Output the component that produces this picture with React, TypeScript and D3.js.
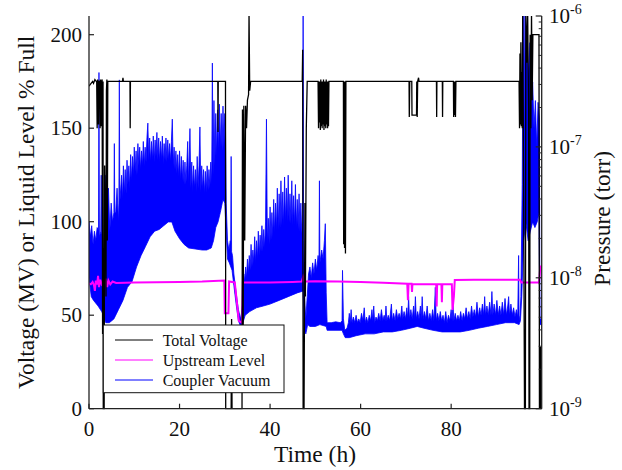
import React from 'react';
import * as d3 from 'd3';

// ---------- data ----------
const xTicks = [0, 20, 40, 60, 80];
const yTicks = [0, 50, 100, 150, 200];
const pMajor = [1e-9, 1e-8, 1e-7, 1e-6];
const pMajorExp = ['-9', '-8', '-7', '-6'];
const pMinorDecades = [1e-9, 1e-8, 1e-7];
const pMinorMult = [2, 3, 4, 5, 6, 7, 8, 9];

const seriesNames = ['Total Voltage', 'Upstream Level', 'Coupler Vacuum'];
const seriesColors = ['#000000', '#ff00ff', '#0000ff'];

// Total Voltage (MV) [time h, value]
const voltage: [number, number][] = [
  [0, 172.5], [0.8, 175], [1.0, 174], [1.3, 176], [1.6, 175], [1.7, 175], [1.8, 150], [1.9, 176], [2.0, 175],
  [2.1, 152], [2.2, 175], [2.4, 175], [2.45, 150], [2.5, 176], [2.65, 151], [2.75, 175], [2.9, 176], [3.0, 40],
  [3.1, 175], [3.15, 0], [3.35, 0], [3.45, 130], [3.6, 100], [3.75, 60], [3.85, 170], [3.95, 176], [4.05, 90], [4.15, 175],
  [7.4, 175], [7.5, 177], [7.6, 175],
  [9.05, 175], [9.1, 150], [9.15, 175],
  [28.45, 175], [28.5, 148], [28.55, 175],
  [30.15, 175], [30.2, 0], [31.4, 0], [31.5, 48], [31.6, 0], [33.8, 0], [33.9, 160], [34.05, 30], [34.2, 162],
  [34.4, 90], [34.6, 162], [34.8, 150], [35.0, 165], [35.25, 168], [35.35, 212], [35.5, 170], [35.7, 175],
  [47.1, 175], [47.2, 192], [47.3, 0], [47.5, 0], [47.7, 110], [47.8, 60], [48.0, 150], [48.2, 175],
  [50.6, 175], [50.7, 150], [50.8, 175], [50.9, 153], [51.0, 175], [51.1, 149], [51.2, 176], [51.3, 151], [51.4, 175],
  [51.5, 150], [51.6, 175], [51.7, 152], [51.8, 176], [51.9, 149], [52.0, 175], [52.1, 151], [52.2, 175], [52.3, 150],
  [52.4, 176], [52.5, 152], [52.6, 175], [52.7, 150], [52.8, 175], [52.9, 151], [53.0, 175],
  [56.2, 175], [56.25, 88], [56.35, 175], [56.45, 86], [56.55, 175], [56.65, 83], [56.75, 175],
  [70.7, 175], [70.75, 156], [70.85, 175], [71.3, 175], [71.35, 157], [72.35, 157], [72.4, 175], [72.5, 156], [72.6, 175],
  [72.8, 177], [72.9, 175],
  [76.75, 175], [76.8, 156], [76.85, 175],
  [78.05, 175], [78.1, 156], [78.15, 175],
  [80.5, 175], [80.55, 156], [80.65, 175], [80.75, 157], [80.85, 175], [80.95, 156], [81.05, 175],
  [95.0, 175], [95.1, 150], [95.2, 190], [95.3, 152], [95.4, 196], [95.5, 151], [95.6, 180], [95.7, 150], [95.8, 212],
  [96.0, 120], [96.2, 0], [96.4, 0], [96.5, 212], [96.7, 185], [96.9, 212], [97.1, 160], [97.2, 0], [97.35, 0],
  [97.45, 200], [97.6, 150], [97.75, 212], [97.9, 165], [98.05, 200], [99.4, 200], [99.5, 0], [99.6, 33], [99.7, 0],
  [99.8, 33], [99.9, 0],
];

// Upstream Level (% full) [time h, value]
const level: [number, number][] = [
  [0, 67], [0.4, 66.5], [0.8, 67.8], [1.1, 66], [1.3, 63], [1.5, 68.5], [1.8, 66.5], [2.0, 71], [2.2, 65], [2.5, 69],
  [2.8, 66.5], [3.1, 67.5], [3.25, 52], [3.4, 67], [3.7, 69.5], [4.0, 65], [4.3, 68.5], [4.7, 66.5], [5.2, 68],
  [6.0, 67.2], [8.0, 67.3], [10, 67.5], [15, 67.6], [20, 67.8], [25, 68], [29.9, 68.5], [30.0, 51], [30.8, 51],
  [30.95, 68], [32.2, 67.5], [33.1, 47], [33.8, 46], [34.0, 67.5], [40, 67.5], [45, 67.8], [47.0, 68], [47.3, 70.5],
  [47.6, 68], [50, 68.2], [55, 68], [60, 67.8], [65, 67.3],
  [70.3, 66.8], [70.45, 58], [70.6, 66.8], [71.25, 66.8], [71.35, 62.5], [71.45, 66.6], [76.7, 66.6], [76.8, 54.6],
  [76.9, 66.6], [77.85, 66.6], [77.95, 57], [78.05, 66.6], [80.15, 66.6], [80.3, 52.8], [80.6, 60], [80.8, 68.8],
  [85, 69], [90, 69], [95.2, 69], [95.5, 67.5], [99.4, 67.5], [99.7, 76], [100, 76],
];

// Coupler Vacuum (torr): upper envelope of the fast-oscillating trace [time h, pressure]
const vacuumHigh: [number, number][] = [
  [0.0, 2.67e-8], [0.3, 2.06e-8], [0.6, 2.5e-8], [0.9, 1.8e-8], [1.2, 2.27e-8], [1.5, 1.92e-8], [1.8, 2.42e-8],
  [2.1, 2.27e-8], [2.2, 3.7e-7], [2.3, 2.06e-8], [2.6, 2.27e-8], [2.7, 6.08e-8], [2.8, 2.27e-8], [3.0, 1.92e-8],
  [3.3, 7.18e-9], [3.5, 1.18e-8], [3.7, 6.08e-8], [4.0, 2.67e-8], [4.3, 4.84e-8], [4.6, 2.27e-8], [4.9, 3.72e-8],
  [5.2, 2.67e-8], [5.5, 3.15e-8], [5.6, 1.06e-7], [5.7, 3.15e-8], [5.9, 3.15e-8], [6.2, 4.84e-8], [6.5, 2.67e-8],
  [6.6, 3.72e-8], [6.7, 3.25e-7], [6.8, 3.72e-8],
  [7.2, 6.08e-8], [7.4, 3.97e-8], [7.6, 7.17e-8], [7.8, 4.38e-8], [8.0, 6.71e-8], [8.2, 4.38e-8], [8.4, 7.91e-8],
  [8.6, 5.16e-8], [8.8, 7.17e-8], [9.0, 4.84e-8], [9.2, 8.73e-8], [9.4, 5.51e-8], [9.6, 8.45e-8], [9.8, 6.08e-8],
  [10.0, 9.96e-8], [10.2, 6.5e-8], [10.4, 9.32e-8], [10.6, 6.08e-8], [10.8, 1.06e-7], [11.0, 7.17e-8],
  [11.2, 9.96e-8], [11.4, 6.71e-8], [11.6, 9.32e-8], [11.8, 7.17e-8], [12.0, 1.1e-7], [12.2, 7.17e-8],
  [12.4, 9.96e-8], [12.6, 7.66e-8], [12.8, 1.17e-7], [13.0, 1.52e-7], [13.2, 7.91e-8], [13.4, 1.17e-7],
  [13.6, 7.66e-8], [13.8, 1.1e-7], [14.0, 7.91e-8], [14.2, 1.21e-7], [14.4, 7.66e-8], [14.6, 1.13e-7],
  [14.8, 8.45e-8], [15.0, 1.29e-7], [15.2, 7.91e-8], [15.4, 1.17e-7], [15.6, 7.66e-8], [15.8, 1.1e-7],
  [16.0, 7.91e-8], [16.2, 1.21e-7], [16.4, 7.41e-8], [16.6, 1.06e-7], [16.8, 7.91e-8], [17.0, 1.17e-7],
  [17.2, 7.66e-8], [17.4, 1.13e-7], [17.6, 7.91e-8], [17.8, 1.06e-7], [18.0, 7.66e-8], [18.2, 1.1e-7],
  [18.4, 1.63e-7], [18.6, 7.17e-8], [18.8, 9.96e-8], [19.0, 6.71e-8], [19.2, 9.32e-8], [19.4, 6.29e-8],
  [19.6, 8.73e-8], [19.8, 5.89e-8], [20.0, 9.32e-8], [20.2, 5.51e-8], [20.4, 8.45e-8], [20.6, 5.51e-8],
  [20.8, 7.91e-8], [21.0, 5.16e-8], [21.2, 7.66e-8], [21.4, 5.16e-8], [21.6, 7.17e-8], [21.8, 1.1e-7],
  [22.0, 5.16e-8], [22.3, 1.38e-7], [22.5, 4.84e-8], [22.7, 7.66e-8], [22.9, 4.53e-8], [23.1, 7.17e-8],
  [23.3, 4.84e-8], [23.5, 6.71e-8], [23.7, 4.53e-8], [23.9, 8.45e-8], [24.1, 4.84e-8], [24.3, 7.17e-8],
  [24.5, 1.42e-7], [24.7, 4.53e-8], [24.9, 7.17e-8], [25.1, 4.68e-8], [25.3, 6.71e-8], [25.5, 4.38e-8],
  [25.7, 6.5e-8], [25.9, 4.53e-8], [26.1, 7.17e-8], [26.3, 4.68e-8], [26.5, 6.71e-8], [26.7, 4.84e-8],
  [26.9, 7.66e-8], [27.1, 5.16e-8], [27.25, 4.37e-7], [27.4, 6.08e-8], [27.6, 2.26e-7], [27.8, 7.17e-8],
  [28.0, 1.8e-7], [28.2, 8.45e-8], [28.4, 1.92e-7], [28.6, 9.32e-8], [28.8, 2.12e-7], [29.0, 9.96e-8],
  [29.2, 1.8e-7], [29.4, 9.32e-8], [29.6, 2.05e-7], [29.8, 9.96e-8], [30.0, 1.8e-7], [30.15, 1.38e-7],
  [30.3, 3.72e-8], [30.6, 1.92e-8], [30.9, 1.63e-8], [31.2, 1.92e-8], [31.3, 1.8e-8], [31.4, 8.45e-8],
  [31.5, 1.58e-8], [31.7, 1.48e-8], [32.0, 1.07e-8], [32.5, 7.67e-9], [33.0, 5.71e-9], [33.5, 4.85e-9],
  [33.9, 6.09e-9],
  [34.0, 7.18e-9], [34.2, 1.07e-8], [34.4, 9.34e-9], [34.6, 1.21e-8], [34.8, 1.0e-8], [35.0, 1.39e-8],
  [35.2, 1.07e-8], [35.4, 1.48e-8], [35.6, 1.14e-8], [35.8, 1.8e-8], [36.0, 1.21e-8], [36.2, 1.63e-8],
  [36.4, 1.3e-8], [36.6, 2.06e-8], [36.8, 1.3e-8], [37.0, 1.92e-8], [37.2, 1.39e-8], [37.4, 2.27e-8],
  [37.6, 1.48e-8], [37.8, 2.12e-8], [38.0, 1.58e-8], [38.2, 2.5e-8], [38.4, 1.58e-8], [38.6, 2.34e-8],
  [38.8, 1.69e-8], [39.0, 2.67e-8], [39.2, 1.63e-7], [39.4, 1.8e-8], [39.6, 2.85e-8], [39.8, 1.8e-8],
  [40.0, 3.48e-8], [40.2, 1.92e-8], [40.4, 3.15e-8], [40.6, 2.06e-8], [40.8, 3.97e-8], [41.0, 2.19e-8],
  [41.2, 3.72e-8], [41.4, 2.27e-8], [41.6, 4.84e-8], [41.8, 2.34e-8], [42.0, 4.38e-8], [42.2, 2.42e-8],
  [42.4, 5.51e-8], [42.6, 2.5e-8], [42.8, 4.53e-8], [43.0, 2.5e-8], [43.2, 5.89e-8], [43.4, 2.67e-8],
  [43.6, 4.84e-8], [43.8, 2.67e-8], [44.0, 6.08e-8], [44.2, 2.67e-8], [44.4, 4.38e-8], [44.6, 2.59e-8],
  [44.8, 5.51e-8], [45.0, 2.5e-8], [45.2, 4.24e-8], [45.4, 2.5e-8], [45.6, 5.16e-8], [45.8, 2.42e-8],
  [46.0, 3.97e-8], [46.2, 2.34e-8], [46.4, 4.38e-8], [46.6, 2.27e-8], [46.8, 3.72e-8], [47.0, 2.19e-8],
  [47.2, 2.67e-8], [47.3, 1.2e-6], [47.4, 1.92e-8],
  [47.6, 7.18e-9], [47.9, 4.85e-9], [48.2, 7.18e-9], [48.5, 1.07e-8], [48.8, 1.21e-8], [49.1, 1.0e-8],
  [49.4, 1.3e-8], [49.7, 1.07e-8], [50.0, 1.39e-8], [50.3, 1.14e-8], [50.6, 1.48e-8], [50.8, 1.3e-8],
  [50.9, 5.51e-8], [51.0, 1.3e-8], [51.4, 1.63e-8], [51.7, 1.39e-8], [52.0, 1.92e-8], [52.2, 2.59e-8],
  [52.4, 7.67e-9], [52.6, 4.54e-9], [53.5, 4.54e-9], [54.5, 4.61e-9], [55.5, 4.54e-9], [55.9, 4.69e-9],
  [56.0, 1.14e-8], [56.2, 4.85e-9],
  [56.5, 3.98e-9], [57.0, 4.12e-9], [57.3, 4.54e-9], [57.5, 5.35e-9], [57.7, 4.54e-9], [57.9, 5.71e-9],
  [58.1, 4.54e-9], [58.4, 5.01e-9], [58.7, 4.54e-9], [59.0, 5.17e-9], [59.3, 4.54e-9], [59.6, 4.85e-9],
  [59.9, 4.54e-9], [60.2, 5.35e-9], [60.5, 4.69e-9], [60.8, 5.9e-9], [61.0, 4.54e-9], [61.3, 5.01e-9],
  [61.6, 4.54e-9], [61.9, 5.17e-9], [62.2, 4.69e-9], [62.5, 5.71e-9], [62.7, 4.69e-9], [62.9, 6.09e-9],
  [63.1, 4.54e-9], [63.4, 5.01e-9], [63.7, 4.69e-9], [64.0, 5.35e-9], [64.3, 4.69e-9], [64.6, 5.71e-9],
  [64.9, 4.69e-9], [65.2, 5.17e-9], [65.4, 4.69e-9], [65.6, 6.09e-9], [65.8, 4.69e-9], [66.1, 5.17e-9],
  [66.4, 4.69e-9], [66.8, 6.3e-9], [67.0, 4.69e-9], [67.3, 5.35e-9], [67.6, 4.69e-9], [67.9, 5.71e-9],
  [68.2, 4.85e-9], [68.5, 5.35e-9], [68.8, 4.85e-9], [69.1, 6.09e-9], [69.3, 4.85e-9], [69.6, 5.52e-9],
  [69.9, 4.85e-9], [70.2, 5.9e-9], [70.4, 4.85e-9], [70.6, 7.18e-9], [70.8, 4.85e-9], [71.1, 5.71e-9],
  [71.4, 4.85e-9], [71.7, 6.09e-9], [71.9, 4.85e-9], [72.1, 7.18e-9], [72.3, 4.85e-9], [72.6, 5.52e-9],
  [72.9, 4.85e-9], [73.2, 6.09e-9], [73.4, 4.85e-9], [73.6, 7.18e-9], [73.8, 4.85e-9], [74.1, 5.52e-9],
  [74.4, 4.85e-9], [74.7, 6.09e-9], [75.0, 4.69e-9], [75.3, 5.35e-9], [75.6, 4.69e-9], [75.9, 5.71e-9],
  [76.2, 4.69e-9], [76.5, 8.46e-9], [76.7, 4.69e-9], [77.0, 5.35e-9], [77.3, 4.69e-9], [77.6, 5.52e-9],
  [77.9, 4.69e-9], [78.2, 5.17e-9], [78.5, 4.54e-9], [78.8, 5.52e-9], [79.1, 4.54e-9], [79.4, 5.17e-9],
  [79.7, 4.69e-9], [80.0, 5.71e-9], [80.2, 4.69e-9], [80.4, 6.3e-9], [80.6, 4.69e-9], [80.9, 5.35e-9],
  [81.2, 4.69e-9], [81.5, 5.17e-9], [81.8, 4.69e-9], [82.1, 5.52e-9], [82.4, 4.69e-9], [82.7, 5.35e-9],
  [83.0, 4.85e-9], [83.3, 5.9e-9], [83.6, 4.85e-9], [83.9, 5.52e-9], [84.2, 4.85e-9], [84.5, 6.09e-9],
  [84.8, 5.01e-9], [85.1, 5.71e-9], [85.4, 5.01e-9], [85.7, 6.51e-9], [86.0, 5.01e-9], [86.3, 5.9e-9],
  [86.6, 5.17e-9], [86.9, 6.3e-9], [87.2, 5.17e-9], [87.4, 7.18e-9], [87.6, 5.17e-9], [87.9, 6.09e-9],
  [88.2, 5.17e-9], [88.5, 6.51e-9], [88.8, 5.17e-9], [89.0, 7.85e-9], [89.2, 5.17e-9], [89.5, 6.3e-9],
  [89.8, 5.17e-9], [90.1, 6.72e-9], [90.4, 5.17e-9], [90.7, 6.09e-9], [91.0, 5.17e-9], [91.3, 6.51e-9],
  [91.6, 5.17e-9], [91.9, 6.95e-9], [92.2, 5.17e-9], [92.5, 6.09e-9], [92.7, 7.18e-9], [92.9, 5.17e-9],
  [93.2, 6.3e-9], [93.5, 5.17e-9], [93.8, 5.9e-9], [94.1, 5.01e-9], [94.4, 5.71e-9], [94.7, 5.01e-9],
  [94.9, 1.48e-8], [95.0, 4.69e-9],
  [95.2, 5.17e-9], [95.4, 7.18e-9], [95.7, 5.16e-8],
  [95.9, 1.2e-6], [96.1, 1.38e-7], [96.3, 1.2e-6], [96.5, 5.15e-7], [96.8, 7.15e-7], [97.1, 3.14e-7],
  [97.4, 6.26e-7], [97.7, 1.92e-7], [98.0, 3.14e-7], [98.3, 1.38e-7], [98.6, 2.26e-7], [98.9, 9.96e-8],
  [99.2, 2.19e-7], [99.5, 1.63e-7], [99.6, 4.85e-9], [100, 4.85e-9],
];

// Coupler Vacuum (torr): lower envelope [time h, pressure]
const vacuumLow: [number, number][] = [
  [0, 1.0e-8], [0.5, 7.18e-9], [1.0, 6.72e-9], [2.0, 6.09e-9], [2.8, 5.52e-9], [3.2, 5.17e-9], [3.7, 4.54e-9],
  [4.5, 4.54e-9], [5.5, 4.85e-9], [6.5, 5.71e-9], [7.5, 6.72e-9], [8.5, 8.46e-9], [9.5, 9.34e-9], [10.5, 1.21e-8],
  [11.5, 1.48e-8], [12.5, 1.74e-8], [13.5, 2.06e-8], [14.5, 2.27e-8], [15.5, 2.34e-8], [16.5, 2.5e-8],
  [17.5, 2.67e-8], [18.3, 2.67e-8], [19.0, 2.27e-8], [20.0, 1.99e-8], [21.0, 1.8e-8], [22.0, 1.69e-8],
  [25.0, 1.63e-8], [26.0, 1.63e-8], [27.0, 1.69e-8], [27.5, 1.92e-8], [28.0, 2.42e-8], [28.5, 2.67e-8],
  [29.0, 3.15e-8], [29.6, 3.97e-8], [30.0, 3.72e-8], [30.3, 2.27e-8], [30.6, 1.39e-8], [31.0, 1.3e-8],
  [31.6, 1.14e-8], [32.0, 8.74e-9], [32.5, 6.3e-9], [33.0, 4.69e-9], [33.5, 4.25e-9], [34.0, 4.54e-9],
  [34.5, 5.17e-9], [35.5, 5.52e-9], [37.0, 5.9e-9], [38.5, 6.09e-9], [40.0, 6.3e-9], [42.0, 6.72e-9],
  [44.0, 7.18e-9], [46.0, 7.67e-9], [47.3, 7.92e-9], [47.6, 3.97e-9], [47.9, 3.73e-9], [48.3, 4.39e-9],
  [48.8, 4.25e-9], [50.0, 4.25e-9], [51.0, 4.39e-9], [52.4, 4.25e-9], [52.6, 3.97e-9], [55.9, 3.97e-9],
  [56.2, 3.73e-9], [56.6, 3.49e-9], [57.5, 3.49e-9], [59.0, 3.61e-9], [61.0, 3.73e-9], [63.0, 3.73e-9],
  [65.0, 3.86e-9], [67.0, 3.86e-9], [69.0, 3.97e-9], [71.0, 4.12e-9], [72.5, 4.25e-9], [74.0, 4.12e-9],
  [76.0, 3.97e-9], [78.0, 3.86e-9], [82.0, 3.86e-9], [84.0, 3.97e-9], [86.0, 4.12e-9], [88.0, 4.25e-9],
  [90.0, 4.39e-9], [92.0, 4.54e-9], [94.0, 4.54e-9], [95.0, 4.39e-9], [95.3, 4.69e-9], [95.6, 7.18e-9],
  [96.0, 1.92e-8], [96.5, 2.67e-8], [97.0, 1.92e-8], [97.5, 2.27e-8], [98.0, 2.67e-8], [98.5, 2.42e-8],
  [99.0, 2.67e-8], [99.4, 3.15e-8], [99.6, 4.39e-9], [100, 4.39e-9],
];

// ---------- layout ----------
const W = 622;
const H = 470;
const L = 89;
const R = 541.7;
const T = 16;
const B = 408.7;
const FONT = "'Liberation Serif', 'DejaVu Serif', 'Times New Roman', serif";

export default function App() {
  const x = d3.scaleLinear().domain([0, 100]).range([L, R]);
  const y = d3.scaleLinear().domain([0, 210]).range([B, T]);
  const yp = d3.scaleLog().domain([1e-9, 1e-6]).range([B, T]);

  const lineL = d3.line<[number, number]>().x((d) => x(d[0])).y((d) => y(d[1]));
  const lineP = d3.line<[number, number]>().x((d) => x(d[0])).y((d) => yp(d[1]));
  const bandPts: [number, number][] = [...vacuumHigh, ...vacuumLow.slice().reverse()];
  const bandPath = (lineP(bandPts) || '') + 'Z';

  const minor: number[] = [];
  pMinorDecades.forEach((d) => pMinorMult.forEach((m) => minor.push(d * m)));

  const axisColor = '#222';
  const legendX = 103.3;
  const legendY = 325;
  const legendRows = [340, 360, 380];
  const txt = { fontFamily: FONT, fill: '#111' } as React.CSSProperties;

  return (
    <svg
      width={W}
      height={H}
      viewBox={`0 0 ${W} ${H}`}
      style={{ position: 'absolute', left: 0, top: 0, background: '#fff', fontFamily: FONT }}
    >
      <defs>
        <clipPath id="plotClip">
          <rect x={L} y={T} width={R - L} height={B - T + 1} />
        </clipPath>
      </defs>
      <rect x={0} y={0} width={W} height={H} fill="#fff" />

      <g clipPath="url(#plotClip)">
        <path d={bandPath} fill={seriesColors[2]} stroke={seriesColors[2]} strokeWidth={0.8} strokeLinejoin="miter" />
        <path d={lineL(level) || ''} fill="none" stroke={seriesColors[1]} strokeWidth={2} />
        <path d={lineL(voltage) || ''} fill="none" stroke={seriesColors[0]} strokeWidth={1.3} />
      </g>

      <line x1={L} y1={T} x2={L} y2={B} stroke={axisColor} strokeWidth={1.3} />
      <line x1={L} y1={B} x2={R} y2={B} stroke={axisColor} strokeWidth={1.3} />
      <line x1={R} y1={T} x2={R} y2={B} stroke={axisColor} strokeWidth={1.3} />

      {yTicks.map((v) => (
        <g key={'yl' + v}>
          <line x1={L} x2={L + 5} y1={y(v)} y2={y(v)} stroke={axisColor} strokeWidth={1.2} />
          <text x={L - 7} y={y(v) + 7} fontSize={21} textAnchor="end" style={txt}>
            {v}
          </text>
        </g>
      ))}

      {xTicks.map((v) => (
        <g key={'xt' + v}>
          <line x1={x(v)} x2={x(v)} y1={B} y2={B - 5} stroke={axisColor} strokeWidth={1.2} />
          <text x={x(v)} y={436} fontSize={21} textAnchor="middle" style={txt}>
            {v}
          </text>
        </g>
      ))}

      {minor.map((v, i) => (
        <line key={'mn' + i} x1={R} x2={R - 3} y1={yp(v)} y2={yp(v)} stroke={axisColor} strokeWidth={1} />
      ))}
      {pMajor.map((v, i) => (
        <g key={'pm' + i}>
          <line x1={R} x2={R - 6} y1={yp(v)} y2={yp(v)} stroke={axisColor} strokeWidth={1.2} />
          <text x={549} y={yp(v) + 7} fontSize={21} style={txt}>
            10
            <tspan fontSize={14} dy={-9}>
              {pMajorExp[i]}
            </tspan>
          </text>
        </g>
      ))}

      <text x={315} y={462} fontSize={23.5} textAnchor="middle" style={txt}>
        Time (h)
      </text>
      <text transform={`translate(34, ${(T + B) / 2}) rotate(-90)`} fontSize={23.5} textAnchor="middle" style={txt}>
        Voltage (MV) or Liquid Level % Full
      </text>
      <text transform={`translate(610, ${(T + B) / 2 + 6}) rotate(-90)`} fontSize={23.5} textAnchor="middle" style={txt}>
        Pressure (torr)
      </text>

      <rect x={legendX} y={legendY} width={180.7} height={67.7} fill="#fff" stroke="#111" strokeWidth={1} />
      {seriesNames.map((n, i) => (
        <g key={n}>
          <line x1={115} x2={153} y1={legendRows[i]} y2={legendRows[i]} stroke={seriesColors[i]} strokeWidth={1} />
          <text x={162.7} y={legendRows[i] + 5.5} fontSize={16} style={txt}>
            {n}
          </text>
        </g>
      ))}
    </svg>
  );
}
